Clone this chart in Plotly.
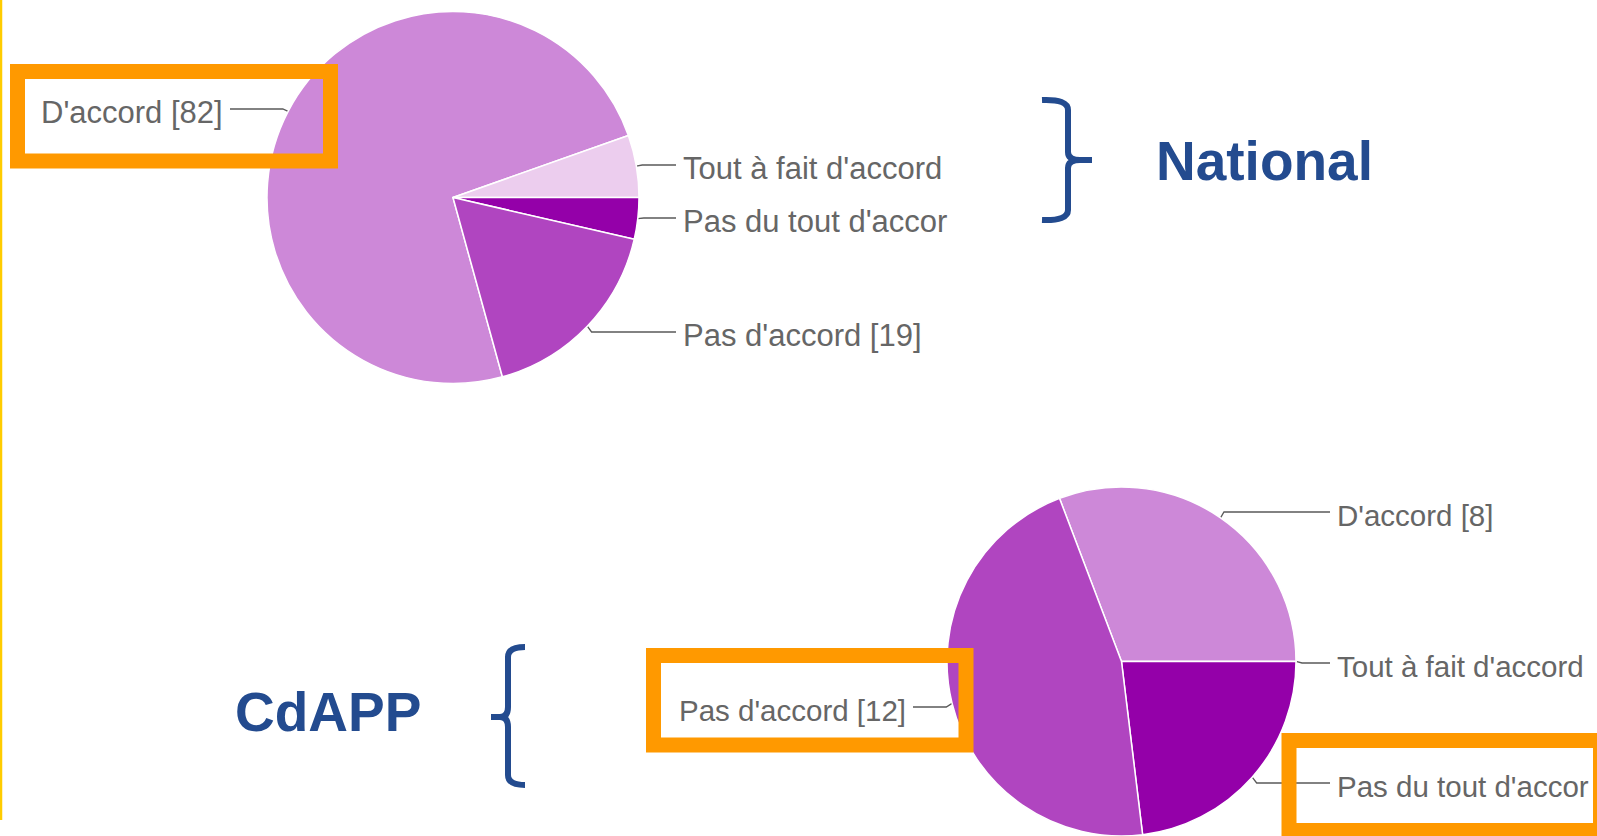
import math
import plotly.graph_objects as go

W, H = 1597, 836

# ---- data -------------------------------------------------------------
categories = ["D'accord", "Tout à fait d'accord", "Pas du tout d'accord", "Pas d'accord"]
national_counts = [82, 6, 4, 19]
cdapp_counts = [8, 0, 6, 12]
# label text as visible in the source (long labels are cut off on the right)
national_labels = ["D'accord [82]", "Tout à fait d'accord", "Pas du tout d'accor", "Pas d'accord [19]"]
cdapp_labels = ["D'accord [8]", "Tout à fait d'accord", "Pas du tout d'accor", "Pas d'accord [12]"]
group_names = ["National", "CdAPP"]

SLICE_COLORS = ["#CD88D8", "#ECCDEE", "#9400A9", "#B045C0"]
BLUE = "#234B8F"
ORANGE = "#FF9900"
LABEL_GREY = "#666666"
LEADER_GREY = "#5a5a5a"

# pie placement (pixels)
PIES = [
    dict(values=national_counts, labels=national_labels, cx=453, cy=197.5, r=186, rotation=164.6,
         label_y=[109, 165, 218, 332], side=[-1, 1, 1, 1], x_left=230, x_right=676, font=31),
    dict(values=cdapp_counts, labels=cdapp_labels, cx=1121.5, cy=661.5, r=174.5, rotation=-20.8,
         label_y=[512, 663, 783, 707], side=[1, 1, 1, -1], x_left=913, x_right=1330, font=29.5),
]

fig = go.Figure()
annotations = []

for p in PIES:
    cx, cy, r = p["cx"], p["cy"], p["r"]
    fig.add_trace(go.Pie(
        labels=categories,
        values=p["values"],
        sort=False,
        direction="clockwise",
        rotation=p["rotation"],
        marker=dict(colors=SLICE_COLORS, line=dict(color="white", width=1.5)),
        textinfo="none",
        hoverinfo="label+value",
        showlegend=False,
        domain=dict(x=[(cx - r) / W, (cx + r) / W], y=[1 - (cy + r) / H, 1 - (cy - r) / H]),
    ))

    # leader lines, anchored at the middle of each slice
    total = sum(p["values"])
    cum = 0
    for v, text, ly, side in zip(p["values"], p["labels"], p["label_y"], p["side"]):
        ang = math.radians(p["rotation"] + (cum + v / 2) / total * 360)
        cum += v
        ex, ey = cx + r * math.sin(ang), cy - r * math.cos(ang)
        bx = cx + (r + 6) * math.sin(ang)
        lx = p["x_right"] if side > 0 else p["x_left"]
        fig.add_trace(go.Scatter(
            x=[ex, bx, lx], y=[ey, ly, ly], mode="lines",
            line=dict(color=LEADER_GREY, width=1.3),
            hoverinfo="skip", showlegend=False,
        ))
        annotations.append(dict(
            x=lx + 5 * side, y=ly + 3, xref="x", yref="y",
            text=text, showarrow=False,
            xanchor="left" if side > 0 else "right", yanchor="middle",
            font=dict(family="Liberation Sans, Arial, sans-serif", size=p["font"], color=LABEL_GREY),
        ))

# group titles
for name, x, y in zip(group_names, [1264, 327.5], [160.5, 712]):
    annotations.append(dict(
        x=x, y=y, xref="x", yref="y", text=f"<b>{name}</b>", showarrow=False,
        xanchor="center", yanchor="middle",
        font=dict(family="Liberation Sans, Arial, sans-serif", size=55, color=BLUE),
    ))

shapes = [
    # yellow rule on the left edge
    dict(type="line", x0=1, x1=1, y0=0, y1=820, xref="x", yref="y",
         line=dict(color="#FFCC00", width=2.5)),
    # right brace next to "National"
    dict(type="path", xref="x", yref="y",
         path="M 1042,100 Q 1068,99 1068,110 L 1068,152 Q 1068,160 1080,160 L 1092,160 "
              "M 1080,160 Q 1068,160 1068,168 L 1068,210 Q 1068,221 1042,220",
         line=dict(color=BLUE, width=6)),
    # left brace next to "CdAPP"
    dict(type="path", xref="x", yref="y",
         path="M 525,647 Q 508,647 508,657 L 508,707 Q 508,717 500,717 L 491,717 "
              "M 500,717 Q 508,717 508,727 L 508,775 Q 508,785 525,785",
         line=dict(color=BLUE, width=6)),
]
# orange highlight boxes
for x0, y0, x1, y1 in [(17.5, 71.5, 330.5, 161), (653.5, 655.5, 966, 745), (1289, 740.5, 1600.5, 830.5)]:
    shapes.append(dict(type="rect", x0=x0, x1=x1, y0=y0, y1=y1, xref="x", yref="y",
                       line=dict(color=ORANGE, width=15), fillcolor="rgba(0,0,0,0)", layer="above"))

fig.update_layout(
    width=W, height=H,
    margin=dict(l=0, r=0, t=0, b=0),
    paper_bgcolor="white",
    plot_bgcolor="rgba(0,0,0,0)",
    xaxis=dict(range=[0, W], visible=False, fixedrange=True, domain=[0, 1]),
    yaxis=dict(range=[H, 0], visible=False, fixedrange=True, domain=[0, 1]),
    annotations=annotations,
    shapes=shapes,
    showlegend=False,
)

# drop the browser's default body margin so the figure sits at the page corner
fig.write_html(
    "out.html",
    config={"displayModeBar": False},
    post_script="document.body.style.margin='0';document.body.style.overflow='hidden';",
)
